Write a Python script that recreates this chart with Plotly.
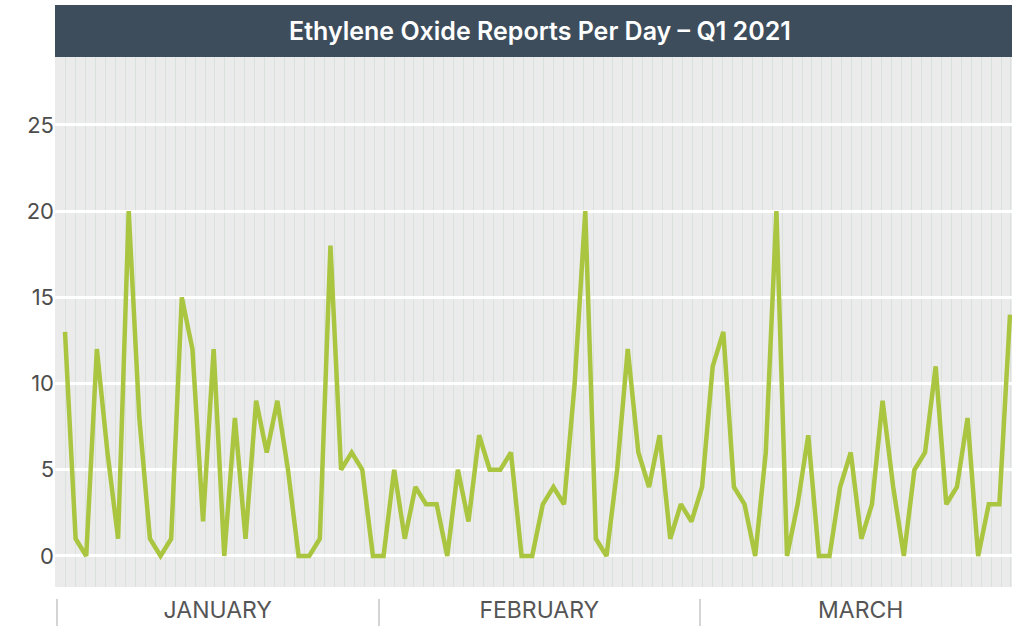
import plotly.graph_objects as go

# ---- data ----
jan = [13, 1, 0, 12, 6, 1, 20, 8, 1, 0, 1, 15, 12, 2, 12, 0, 8, 1, 9, 6, 9, 5, 0, 0, 1, 18, 5, 6, 5, 0, 0]
feb = [5, 1, 4, 3, 3, 0, 5, 2, 7, 5, 5, 6, 0, 0, 3, 4, 3, 10, 20, 1, 0, 5, 12, 6, 4, 7, 1, 3]
mar = [2, 4, 11, 13, 4, 3, 0, 6, 20, 0, 3, 7, 0, 0, 4, 6, 1, 3, 9, 4, 0, 5, 6, 11, 3, 4, 8, 0, 3, 3, 14]
reports = jan + feb + mar
day_index = list(range(len(reports)))
months = ["JANUARY", "FEBRUARY", "MARCH"]
month_centers = [0.5, 1.5, 2.5]
month_bounds = [0, 1, 2]
y_ticks = [0, 5, 10, 15, 20, 25]
title = "Ethylene Oxide Reports Per Day – Q1 2021"

# ---- geometry (pixels) ----
W, H = 1012, 626
L, T = 55, 57
plot_h = H - T            # paper height (b margin = 0)
bottom_gap = 39           # space under the plot area for month labels
px_per_day = 10.618
first_px = 65
x_range = [-(first_px - L) / px_per_day, (W - first_px) / px_per_day]
m_px = 321.5
m0_px = 57
m_range = [(L - m0_px) / m_px, (W - m0_px) / m_px]

font = "Inter, Lato, sans-serif"

fig = go.Figure()
fig.add_trace(go.Scatter(
    x=day_index, y=reports, mode="lines",
    line=dict(color="#aac540", width=4.5),
    showlegend=False, hoverinfo="x+y",
))
fig.add_trace(go.Scatter(x=month_centers, y=[None] * 3, xaxis="x2", yaxis="y",
                         showlegend=False, hoverinfo="skip"))
fig.add_trace(go.Scatter(x=month_bounds, y=[None] * 3, xaxis="x3", yaxis="y",
                         showlegend=False, hoverinfo="skip"))

fig.update_layout(
    width=W, height=H,
    margin=dict(l=L, r=0, t=T, b=0, autoexpand=False),
    paper_bgcolor="white",
    plot_bgcolor="#ebebeb",
    template="none",
    font=dict(family=font, color="#4d4d4d"),
    xaxis=dict(
        range=x_range, domain=[0, 1],
        tickmode="array", tickvals=[-100], showticklabels=False,
        showgrid=False, zeroline=False, showline=False, automargin=False,
        minor=dict(showgrid=True, tickmode="linear", tick0=0.066, dtick=9.95 / px_per_day,
                   gridcolor="#d8e2db", gridwidth=1, ticks=""),
    ),
    xaxis2=dict(
        overlaying="x", anchor="free", position=(H - 594) / plot_h,
        range=m_range, tickmode="array", tickvals=month_centers, ticktext=months,
        showgrid=False, zeroline=False, showline=False, ticks="", automargin=False,
        tickfont=dict(size=23, color="#555555", family=font),
    ),
    xaxis3=dict(
        overlaying="x", anchor="free", position=(H - 598) / plot_h,
        range=m_range, tickmode="array", tickvals=month_bounds,
        showticklabels=False, showgrid=False, zeroline=False, showline=False,
        ticks="outside", ticklen=28, tickwidth=2, tickcolor="#d4d4d4", automargin=False,
    ),
    yaxis=dict(
        domain=[bottom_gap / plot_h, 1],
        range=[-1.8, 28.94],
        tickmode="array", tickvals=y_ticks,
        showgrid=True, gridcolor="white", gridwidth=2.5,
        zeroline=False, showline=False,
        ticks="", ticklen=0,
        tickfont=dict(size=22, color="#4d4d4d", family=font),
        automargin=False,
    ),
    shapes=[dict(type="rect", xref="paper", yref="paper",
                 x0=0, x1=1, y0=1, y1=1 + 52 / plot_h,
                 fillcolor="#3d4d5c", line=dict(width=0), layer="above")],
    annotations=[dict(text=title, xref="paper", yref="paper",
                      x=(540 - L) / (W - L), y=1 + 26 / plot_h,
                      xanchor="center", yanchor="middle", showarrow=False,
                      font=dict(size=25, color="white", family=font, weight=600))],
)

fig.write_html("out.html", config={"displayModeBar": False},
               post_script="document.body.style.margin='0';")
